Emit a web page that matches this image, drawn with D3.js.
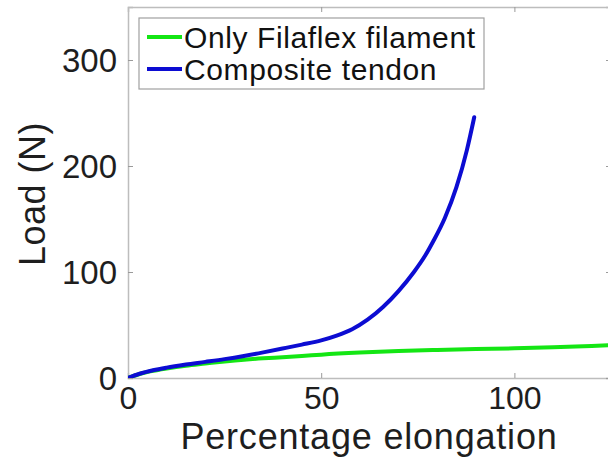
<!DOCTYPE html>
<html>
<head>
<meta charset="utf-8">
<script src="https://cdnjs.cloudflare.com/ajax/libs/d3/7.8.5/d3.min.js"></script>
<style>
  body { margin: 0; background: #fff; }
  svg { display: block; font-family: 'Liberation Sans', Arial, sans-serif; }
</style>
</head>
<body>
<div id="chart"></div>
<script>
// Values
const compositeElong = [0, 3, 6.5, 10, 15, 20, 25, 30, 35, 40, 45, 50, 54, 58, 62, 66, 70, 74, 77, 79, 82, 85, 87.7, 89.6];
const compositeLoad = [0, 4, 7.3, 9.8, 12.7, 15.2, 17.8, 20.8, 24.2, 27.8, 31.5, 35.5, 40, 46, 55, 67, 82, 100, 116, 129, 151, 180, 215, 246];
const filaflexElong = [0, 3, 6.5, 10, 15, 20, 25, 30, 35, 40, 45, 50, 60, 70, 80, 90, 100, 110, 120, 130];
const filaflexLoad = [0, 3.8, 6.8, 9, 11.6, 13.6, 15.6, 17.3, 18.6, 19.6, 20.7, 22, 24, 25.5, 26.5, 27.3, 28, 29, 30.3, 31.5];
const xTicks = [0, 50, 100];
const yTicks = [0, 100, 200, 300];
const legendLabels = ['Only Filaflex filament', 'Composite tendon'];

const width = 608;
const height = 471;
const margin = { top: 7, right: -3, bottom: 93, left: 128 };
const plotW = width - margin.left - margin.right;
const plotH = height - margin.top - margin.bottom;

const colorFila = '#14e614';
const colorComp = '#0c0cd2';
const axisColor = '#bdbdbd';
const textColor = '#1e1e1e';

const svg = d3.select('#chart')
  .append('svg')
  .attr('width', width)
  .attr('height', height);

const g = svg.append('g')
  .attr('transform', `translate(${margin.left},${margin.top})`);

// Scales
const xScale = d3.scaleLinear().domain([0, 125]).range([0, plotW]);
const yScale = d3.scaleLinear().domain([0, 350]).range([plotH, 0]);

// Clip for the curves
g.append('clipPath').attr('id', 'plotClip')
  .append('rect').attr('width', plotW).attr('height', plotH);

// Axes (inward ticks, box style)
const axisBottom = d3.axisBottom(xScale).tickValues(xTicks).tickSize(-5).tickPadding(9).tickFormat(d3.format('d'));
const axisTop = d3.axisTop(xScale).tickValues(xTicks).tickSize(-5).tickFormat('');
const axisLeft = d3.axisLeft(yScale).tickValues(yTicks).tickSize(-5).tickPadding(11).tickFormat(d3.format('d'));
const axisRight = d3.axisRight(yScale).tickValues(yTicks).tickSize(-5).tickFormat('');

function styleAxis(sel) {
  sel.select('.domain').attr('stroke', axisColor).attr('stroke-width', 1.5);
  sel.selectAll('.tick line').attr('stroke', '#9a9a9a').attr('stroke-width', 1);
  sel.selectAll('.tick text')
    .attr('fill', textColor)
    .style('font-size', '32px');
}

g.append('g').attr('transform', `translate(0,${plotH})`).call(axisBottom).call(styleAxis)
  .selectAll('.tick text').attr('dy', '0.7em');
g.append('g').call(axisTop).call(styleAxis);
g.append('g').call(axisLeft).call(styleAxis)
  .selectAll('.tick text').attr('dy', '0.36em').style('font-size', '33px');
g.append('g').attr('transform', `translate(${plotW},0)`).call(axisRight).call(styleAxis);

// Curves
const line = d3.line()
  .x(d => xScale(d[0]))
  .y(d => yScale(d[1]))
  .curve(d3.curveMonotoneX);

const filaData = filaflexElong.map((v, i) => [v, filaflexLoad[i]]);
const compData = compositeElong.map((v, i) => [v, compositeLoad[i]]);

const curves = g.append('g').attr('clip-path', 'url(#plotClip)');
curves.append('path')
  .datum(filaData)
  .attr('d', line)
  .attr('fill', 'none')
  .attr('stroke', colorFila)
  .attr('stroke-width', 4)
  .attr('stroke-linecap', 'round');
curves.append('path')
  .datum(compData)
  .attr('d', line)
  .attr('fill', 'none')
  .attr('stroke', colorComp)
  .attr('stroke-width', 4)
  .attr('stroke-linecap', 'round');

// Axis labels
svg.append('text')
  .attr('x', 369)
  .attr('y', 449)
  .attr('text-anchor', 'middle')
  .attr('fill', textColor)
  .style('font-size', '36px')
  .style('letter-spacing', '0.8px')
  .text('Percentage elongation');

svg.append('text')
  .attr('transform', 'translate(45,194) rotate(-90)')
  .attr('text-anchor', 'middle')
  .attr('fill', textColor)
  .style('font-size', '36px')
  .style('letter-spacing', '0.5px')
  .text('Load (N)');

// Legend
const legend = svg.append('g').attr('transform', 'translate(139,18)');
legend.append('rect')
  .attr('width', 345)
  .attr('height', 71)
  .attr('fill', '#fff')
  .attr('stroke', '#a0a0a0')
  .attr('stroke-width', 1.2);

const legendColors = [colorFila, colorComp];
legendLabels.forEach((label, i) => {
  const row = legend.append('g').attr('transform', `translate(0,${19 + i * 32})`);
  row.append('line')
    .attr('x1', 8).attr('x2', 43)
    .attr('stroke', legendColors[i])
    .attr('stroke-width', 4);
  row.append('text')
    .attr('x', 45)
    .attr('dy', '0.36em')
    .attr('fill', '#111')
    .style('font-size', '30px')
    .style('letter-spacing', '0.6px')
    .text(label);
});
</script>
</body>
</html>
